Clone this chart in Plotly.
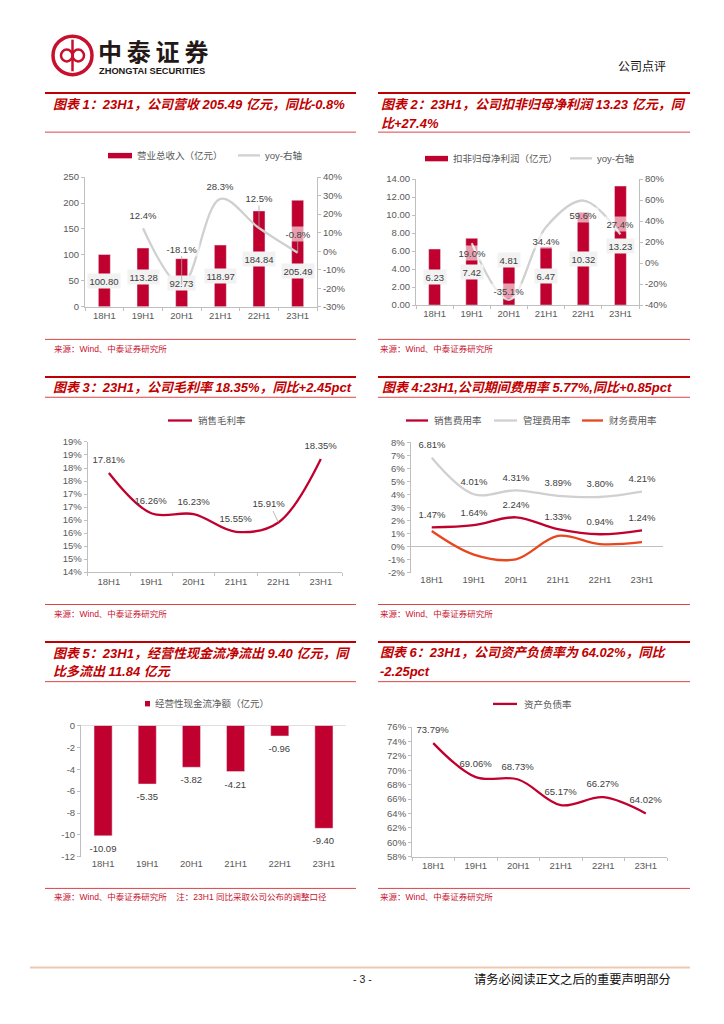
import plotly.graph_objects as go

W, H = 724, 1024
NUM = "Liberation Sans, Arial, Noto Sans CJK SC, sans-serif"
CJK = "Noto Sans CJK SC, Liberation Sans, sans-serif"
RED = "#C0002E"
TITLE_RED = "#C00000"
THIN_RED = "#DC4446"
GREY_LINE = "#D0D0D0"
ORANGE = "#E8461E"
AXIS = "#BFBFBF"
TICK = "#595959"
LABEL = "#404040"

# ---------------- data ----------------
categories = ["18H1", "19H1", "20H1", "21H1", "22H1", "23H1"]

revenue = [100.80, 113.28, 92.73, 118.97, 184.84, 205.49]
revenue_yoy = [None, 12.4, -18.1, 28.3, 12.5, -0.8]

np_deducted = [6.23, 7.42, 4.81, 6.47, 10.32, 13.23]
np_deducted_yoy = [None, 19.0, -35.1, 34.4, 59.6, 27.4]

gross_margin = [17.81, 16.26, 16.23, 15.55, 15.91, 18.35]

sales_exp_rate = [1.47, 1.64, 2.24, 1.33, 0.94, 1.24]
admin_exp_rate = [6.81, 4.01, 4.31, 3.89, 3.80, 4.21]
fin_exp_rate = [1.19, -0.62, -0.98, 0.81, 0.18, 0.33]

op_cashflow = [-10.09, -5.35, -3.82, -4.21, -0.96, -9.40]

debt_ratio = [73.79, 69.06, 68.73, 65.17, 66.27, 64.02]

# tick labels
t1_left_vals = [0, 50, 100, 150, 200, 250]
t1_left_text = ["0", "50", "100", "150", "200", "250"]
t1_right_vals = [-30, -20, -10, 0, 10, 20, 30, 40]
t1_right_text = ["-30%", "-20%", "-10%", "0%", "10%", "20%", "30%", "40%"]
t2_left_vals = [0, 2, 4, 6, 8, 10, 12, 14]
t2_left_text = ["0.00", "2.00", "4.00", "6.00", "8.00", "10.00", "12.00", "14.00"]
t2_right_vals = [-40, -20, 0, 20, 40, 60, 80]
t2_right_text = ["-40%", "-20%", "0%", "20%", "40%", "60%", "80%"]
t3_vals = [14, 14.5, 15, 15.5, 16, 16.5, 17, 17.5, 18, 18.5, 19]
t3_text = ["14%", "15%", "15%", "16%", "16%", "17%", "17%", "18%", "18%", "19%", "19%"]
t4_vals = [-2, -1, 0, 1, 2, 3, 4, 5, 6, 7, 8]
t4_text = ["-2%", "-1%", "0%", "1%", "2%", "3%", "4%", "5%", "6%", "7%", "8%"]
t5_vals = [-12, -10, -8, -6, -4, -2, 0]
t5_text = ["-12", "-10", "-8", "-6", "-4", "-2", "0"]
t6_vals = [58, 60, 62, 64, 66, 68, 70, 72, 74, 76]
t6_text = ["58%", "60%", "62%", "64%", "66%", "68%", "70%", "72%", "74%", "76%"]


def fx(p):
    return p / W


def fy(p):
    return 1 - p / H


fig = go.Figure()

# ---------------- traces ----------------
# chart 1
fig.add_trace(go.Bar(x=categories, y=revenue, marker_color=RED, width=0.31,
                     xaxis="x", yaxis="y", showlegend=False, hoverinfo="skip"))
fig.add_trace(go.Scatter(x=categories, y=revenue_yoy, mode="lines",
                         line=dict(color=GREY_LINE, width=2.3, shape="spline", smoothing=1.0),
                         xaxis="x", yaxis="y7", showlegend=False, hoverinfo="skip"))
# chart 2
fig.add_trace(go.Bar(x=categories, y=np_deducted, marker_color=RED, width=0.32,
                     xaxis="x2", yaxis="y2", showlegend=False, hoverinfo="skip"))
fig.add_trace(go.Scatter(x=categories, y=np_deducted_yoy, mode="lines",
                         line=dict(color=GREY_LINE, width=2.3, shape="spline", smoothing=1.0),
                         xaxis="x2", yaxis="y8", showlegend=False, hoverinfo="skip"))
# chart 3
fig.add_trace(go.Scatter(x=categories, y=gross_margin, mode="lines",
                         line=dict(color=RED, width=2.3, shape="spline", smoothing=1.0),
                         xaxis="x3", yaxis="y3", showlegend=False, hoverinfo="skip"))
# chart 4
fig.add_trace(go.Scatter(x=categories, y=admin_exp_rate, mode="lines",
                         line=dict(color=GREY_LINE, width=2.3, shape="spline", smoothing=1.0),
                         xaxis="x4", yaxis="y4", showlegend=False, hoverinfo="skip"))
fig.add_trace(go.Scatter(x=categories, y=sales_exp_rate, mode="lines",
                         line=dict(color=RED, width=2.3, shape="spline", smoothing=1.0),
                         xaxis="x4", yaxis="y4", showlegend=False, hoverinfo="skip"))
fig.add_trace(go.Scatter(x=categories, y=fin_exp_rate, mode="lines",
                         line=dict(color=ORANGE, width=2.3, shape="spline", smoothing=1.0),
                         xaxis="x4", yaxis="y4", showlegend=False, hoverinfo="skip"))
# chart 5
fig.add_trace(go.Bar(x=categories, y=op_cashflow, marker_color=RED, width=0.41,
                     xaxis="x5", yaxis="y5", showlegend=False, hoverinfo="skip"))
# chart 6
fig.add_trace(go.Scatter(x=categories, y=debt_ratio, mode="lines",
                         line=dict(color=RED, width=2.3, shape="spline", smoothing=1.0),
                         xaxis="x6", yaxis="y6", showlegend=False, hoverinfo="skip"))

# ---------------- axes ----------------
TFONT = dict(family=NUM, size=9.5, color=TICK)


def xax(left, right, anchor, showline=True):
    return dict(domain=[fx(left), fx(right)], anchor=anchor, type="category",
                range=[-0.5, 5.5], showgrid=False, zeroline=False,
                showline=showline, linecolor=AXIS, linewidth=1,
                ticks="outside" if showline else "", tickson="boundaries",
                ticklen=3, tickcolor=AXIS, tickfont=TFONT, fixedrange=True)


def yax(top, bottom, anchor, rng, vals, text, side="left", overlaying=None,
        zeroline=False):
    d = dict(domain=[fy(bottom), fy(top)], anchor=anchor, range=rng,
             tickvals=vals, ticktext=text, showgrid=False,
             zeroline=zeroline, zerolinecolor=AXIS, zerolinewidth=1,
             showline=True, linecolor=AXIS, linewidth=1, ticks="outside",
             ticklen=3, tickcolor=AXIS, tickfont=TFONT, side=side,
             fixedrange=True)
    if overlaying:
        d["overlaying"] = overlaying
    return d


layout_axes = dict(
    xaxis=xax(85, 317, "y"),
    yaxis=yax(173, 304, "x", [0, 250], t1_left_vals, t1_left_text),
    yaxis7=yax(173, 304, "x", [-30, 40], t1_right_vals, t1_right_text,
               side="right", overlaying="y"),
    xaxis2=xax(416, 639, "y2"),
    yaxis2=yax(175, 302.3, "x2", [0, 14], t2_left_vals, t2_left_text),
    yaxis8=yax(175, 302.3, "x2", [-40, 80], t2_right_vals, t2_right_text,
               side="right", overlaying="y2"),
    xaxis3=xax(87.7, 342, "y3"),
    yaxis3=yax(440.7, 572.3, "x3", [14, 19], t3_vals, t3_text),
    xaxis4=xax(410.7, 663, "y4", showline=False),
    yaxis4=yax(441, 572.7, "x4", [-2, 8], t4_vals, t4_text, zeroline=True),
    xaxis5=xax(81, 346, "y5", showline=False),
    yaxis5=yax(727.3, 860, "x5", [-12, 0], t5_vals, t5_text),
    xaxis6=xax(412, 667, "y6"),
    yaxis6=yax(729, 860, "x6", [58, 76], t6_vals, t6_text),
)

# ---------------- shapes ----------------
shapes = []


def hline(x0, x1, y, color, width):
    shapes.append(dict(type="line", xref="paper", yref="paper", x0=fx(x0), x1=fx(x1),
                       y0=fy(y), y1=fy(y), line=dict(color=color, width=width)))


def rect(x0, x1, y0, y1, color):
    shapes.append(dict(type="rect", xref="paper", yref="paper", x0=fx(x0), x1=fx(x1),
                       y0=fy(y1), y1=fy(y0), fillcolor=color, line=dict(width=0)))


# title / source separators
for (l, r) in [(45, 356), (378, 690)]:
    hline(l, r, 88, TITLE_RED, 2)
    hline(l, r, 127.5, THIN_RED, 1)
    hline(l, r, 337, THIN_RED, 1)
    hline(l, r, 375, TITLE_RED, 2)
    hline(l, r, 395.5, THIN_RED, 1)
    hline(l, r, 605, THIN_RED, 1)
    hline(l, r, 643, TITLE_RED, 2)
    hline(l, r, 683, THIN_RED, 1)
    hline(l, r, 892, THIN_RED, 1)

# footer line
hline(30, 690, 972, "#EBC9B0", 2)

# chart 5 zero line (axis at top)
shapes.append(dict(type="line", xref="x5 domain", yref="y5", x0=0, x1=1, y0=0, y1=0,
                   line=dict(color=AXIS, width=1)))

# logo
shapes.append(dict(type="circle", xref="paper", yref="paper", x0=fx(53), x1=fx(92),
                   y0=fy(69.5), y1=fy(30.5), line=dict(color="#C8102E", width=3.5)))
shapes.append(dict(type="circle", xref="paper", yref="paper", x0=fx(61), x1=fx(72.5),
                   y0=fy(56), y1=fy(44), line=dict(color="#C8102E", width=2.5)))
shapes.append(dict(type="circle", xref="paper", yref="paper", x0=fx(72.5), x1=fx(84),
                   y0=fy(56), y1=fy(44), line=dict(color="#C8102E", width=2.5)))
shapes.append(dict(type="line", xref="paper", yref="paper", x0=fx(72.5), x1=fx(72.5),
                   y0=fy(34), y1=fy(66), line=dict(color="#C8102E", width=2.5)))

# legends (markers)
rect(108, 132, 148.5, 154, RED)
hline(238, 260, 151, GREY_LINE, 2.3)
rect(425, 448, 151.5, 157, RED)
hline(570, 592, 154, GREY_LINE, 2.3)
hline(168, 192, 419, RED, 2.3)
hline(406, 428, 419, RED, 2.3)
hline(494, 517, 419, GREY_LINE, 2.3)
hline(582, 603, 419, ORANGE, 2.3)
rect(145, 150, 702.5, 708, RED)
hline(493, 517, 705.5, RED, 2.3)

# ---------------- annotations ----------------
annotations = []


def ptext(text, x, y, size=9.5, color=TICK, family=CJK, xanchor="left"):
    annotations.append(dict(text=text, x=fx(x), y=fy(y), xref="paper", yref="paper",
                            xanchor=xanchor, yanchor="middle", showarrow=False,
                            font=dict(size=size, color=color, family=family)))


def dlabel(xr, yr, cat, val, text, ax=0, ay=-13, bg="rgba(0,0,0,0)", leader=False):
    annotations.append(dict(text=text, x=cat, y=val, xref=xr, yref=yr,
                            showarrow=True, ax=ax, ay=ay, arrowhead=0,
                            arrowwidth=0.8 if leader else 0.1,
                            arrowcolor="#A6A6A6" if leader else "rgba(0,0,0,0)",
                            standoff=0, startstandoff=0,
                            bgcolor=bg, borderpad=1.5,
                            font=dict(size=9.5, color=LABEL, family=NUM)))


# header
ptext("<b>中\u2009泰\u2009证\u2009券</b>", 96, 44.5, size=24, color="#231815", family=CJK)
ptext("<b>ZHONGTAI SECURITIES</b>", 97, 66, size=9.3, color="#231815", family=NUM)
ptext("公司点评", 668, 60, size=12, color="#111111", xanchor="right")

# titles
TF = NUM
TS = 13
ptext("<b><i>图表 1：23H1，公司营收 205.49 亿元，同比-0.8%</i></b>", 51, 100, size=TS, color=TITLE_RED, family=TF)
ptext("<b><i>图表 2：23H1，公司扣非归母净利润 13.23 亿元，同</i></b>", 379, 100, size=TS, color=TITLE_RED, family=TF)
ptext("<b><i>比+27.4%</i></b>", 379, 119, size=TS, color=TITLE_RED, family=TF)
ptext("<b><i>图表 3：23H1，公司毛利率 18.35%，同比+2.45pct</i></b>", 51, 386, size=TS, color=TITLE_RED, family=TF)
ptext("<b><i>图表 4:23H1,公司期间费用率 5.77%,同比+0.85pct</i></b>", 380, 386, size=TS, color=TITLE_RED, family=TF)
ptext("<b><i>图表 5：23H1，经营性现金流净流出 9.40 亿元，同</i></b>", 51, 655, size=TS, color=TITLE_RED, family=TF)
ptext("<b><i>比多流出 11.84 亿元</i></b>", 51, 673, size=TS, color=TITLE_RED, family=TF)
ptext("<b><i>图表 6：23H1，公司资产负债率为 64.02%，同比</i></b>", 378, 654, size=TS, color=TITLE_RED, family=TF)
ptext("<b><i>-2.25pct</i></b>", 378, 673, size=TS, color=TITLE_RED, family=TF)

# sources
SRC = "来源：Wind、中泰证券研究所"
for (x, y) in [(52, 347), (378, 347), (52, 615), (378, 615), (378, 901)]:
    ptext(SRC, x, y, size=8.5, color="#C8102E", family=NUM)
ptext(SRC + "    注：23H1 同比采取公司公布的调整口径", 52, 901, size=8.5, color="#C8102E", family=NUM)

# legend texts
ptext("营业总收入（亿元）", 135, 151)
ptext("yoy-右轴", 263, 151, family=NUM)
ptext("扣非归母净利润（亿元）", 451, 154)
ptext("yoy-右轴", 595, 154, family=NUM)
ptext("销售毛利率", 196, 419)
ptext("销售费用率", 432, 419)
ptext("管理费用率", 521, 419)
ptext("财务费用率", 607, 419)
ptext("经营性现金流净额（亿元）", 153, 705)
ptext("资产负债率", 522, 705.5)

# footer
ptext("- 3 -", 362, 984, size=10.5, color="#222222", family=NUM, xanchor="center")
ptext("请务必阅读正文之后的重要声明部分", 673, 984, size=12.3, color="#111111", xanchor="right")

BOX = "#F2F2F2"
SEMI = "rgba(255,255,255,0.62)"

# chart 1 labels
bar1_shift = [0, 0, 0, 0, 0, 18]
for i, c in enumerate(categories):
    dlabel("x", "y", c, revenue[i] / 2, f"{revenue[i]:.2f}", ay=bar1_shift[i], bg=BOX)
yoy1_pos = [None, (0, -13, False), (0, -36, True), (0, -13, False), (0, -30, True), (0, -19, True)]
for i, c in enumerate(categories):
    if revenue_yoy[i] is None:
        continue
    ax, ay, ld = yoy1_pos[i]
    dlabel("x", "y7", c, revenue_yoy[i], f"{revenue_yoy[i]:.1f}%", ax=ax, ay=ay, bg=SEMI, leader=ld)

# chart 2 labels
bar2_shift = [0, 0, -23, 0, 0, 0]
for i, c in enumerate(categories):
    dlabel("x2", "y2", c, np_deducted[i] / 2, f"{np_deducted[i]:.2f}", ay=bar2_shift[i], bg=BOX)
yoy2_shift = [None, 10, -9, 14, 14, -10]
for i, c in enumerate(categories):
    if np_deducted_yoy[i] is None:
        continue
    dlabel("x2", "y8", c, np_deducted_yoy[i], f"{np_deducted_yoy[i]:.1f}%", ay=yoy2_shift[i], bg=SEMI)

# chart 3 labels
for i, c in enumerate(categories):
    if i == 4:
        dlabel("x3", "y3", c, gross_margin[i], f"{gross_margin[i]:.2f}%", ax=-9, ay=-19, leader=True)
    else:
        dlabel("x3", "y3", c, gross_margin[i], f"{gross_margin[i]:.2f}%", ay=-13.5)

# chart 4 labels
for i, c in enumerate(categories):
    dlabel("x4", "y4", c, admin_exp_rate[i], f"{admin_exp_rate[i]:.2f}%", ay=-13.5)
    dlabel("x4", "y4", c, sales_exp_rate[i], f"{sales_exp_rate[i]:.2f}%", ay=-13)

# chart 5 labels
for i, c in enumerate(categories):
    dlabel("x5", "y5", c, op_cashflow[i], f"{op_cashflow[i]:.2f}", ay=12)

# chart 6 labels
for i, c in enumerate(categories):
    dlabel("x6", "y6", c, debt_ratio[i], f"{debt_ratio[i]:.2f}%", ay=-14)

fig.update_layout(
    width=W, height=H, margin=dict(l=0, r=0, t=0, b=0),
    paper_bgcolor="white", plot_bgcolor="white",
    showlegend=False, shapes=shapes, annotations=annotations,
    font=dict(family=NUM, color=TICK),
    **layout_axes,
)

fig.write_html("out.html", config={"displayModeBar": False},
               post_script="document.body.style.margin='0';document.body.style.overflow='hidden';")
